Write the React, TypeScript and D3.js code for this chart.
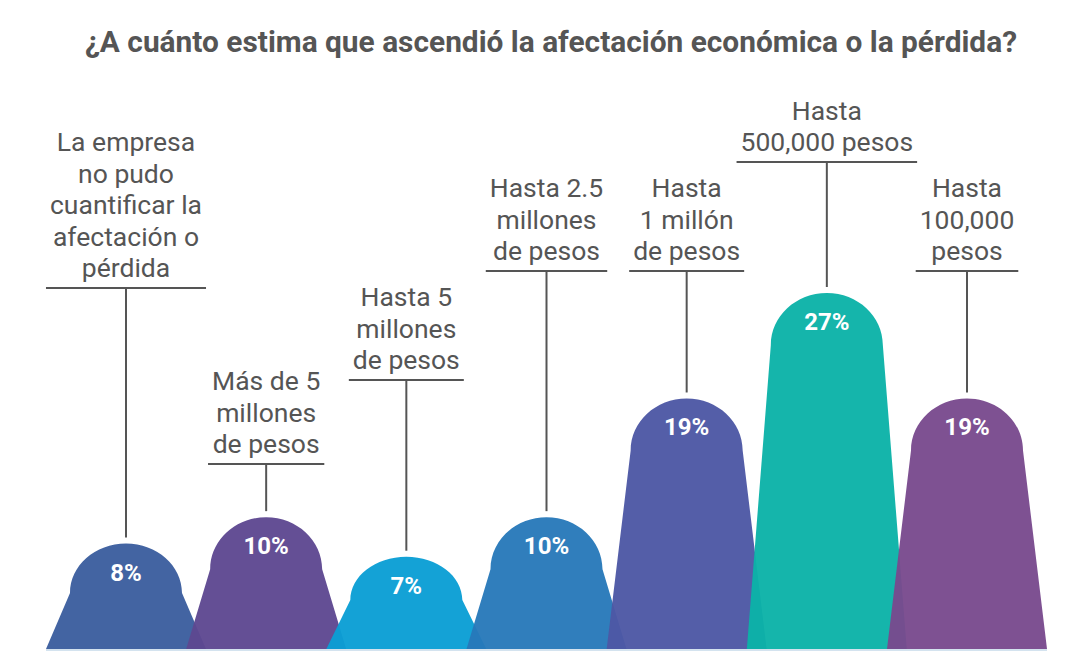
import React, { useEffect, useRef } from "react";
import * as d3 from "d3";

const categories = [
  "no_cuantificar",
  "mas_5m",
  "hasta_5m",
  "hasta_2_5m",
  "hasta_1m",
  "hasta_500k",
  "hasta_100k",
];
const values = [8, 10, 7, 10, 19, 27, 19];
const labels = [
  ["La empresa", "no pudo", "cuantificar la", "afectación o", "pérdida"],
  ["Más de 5", "millones", "de pesos"],
  ["Hasta 5", "millones", "de pesos"],
  ["Hasta 2.5", "millones", "de pesos"],
  ["Hasta", "1 millón", "de pesos"],
  ["Hasta", "500,000 pesos"],
  ["Hasta", "100,000", "pesos"],
];
// rule (label underline) vertical position in pixels
const ruleY = [288, 464, 380, 271, 271, 162, 271];
const colors = ["#3b5e9e", "#5e4891", "#0a9ed4", "#2879b9", "#4d57a4", "#0bb2a8", "#794a8e"];
const title = "¿A cuánto estima que ascendió la afectación económica o la pérdida?";

export default function App() {
  const ref = useRef<SVGSVGElement>(null);
  useEffect(() => {
    const svg = d3.select(ref.current);
    svg.selectAll("*").remove();
    const baseY = 641;
    const x = d3.scalePoint<string>().domain(categories).range([118, 959]);
    const y = d3.scaleLinear().domain([0, 27]).range([baseY, 285]);

    svg
      .append("text")
      .attr("x", 543)
      .attr("y", 44)
      .attr("text-anchor", "middle")
      .attr("font-family", "Roboto")
      .attr("font-weight", 700)
      .attr("font-size", 29)
      .attr("fill", "#555555")
      .attr("textLength", 932)
      .attr("lengthAdjust", "spacingAndGlyphs")
      .text(title);

    const shoulder = 56;
    const baseHalf = 80;
    const g = svg.append("g");
    categories.forEach((c, i) => {
      const cx = x(c)!;
      const top = y(values[i]);
      const h = baseY - top;
      const dome = Math.min(52, h * 0.47);
      const sy = top + dome;
      const p = d3.path();
      p.moveTo(cx - baseHalf, baseY);
      p.lineTo(cx - shoulder, sy);
      const k = 0.5523;
      p.bezierCurveTo(cx - shoulder, sy - dome * k, cx - shoulder * k, top, cx, top);
      p.bezierCurveTo(cx + shoulder * k, top, cx + shoulder, sy - dome * k, cx + shoulder, sy);
      p.lineTo(cx + baseHalf, baseY);
      p.closePath();
      g.append("path").attr("d", p.toString()).attr("fill", colors[i]).attr("fill-opacity", 0.96);
      g.append("text")
        .attr("x", cx)
        .attr("y", top + 37)
        .attr("text-anchor", "middle")
        .attr("font-family", "Roboto")
        .attr("font-weight", 700)
        .attr("font-size", 24)
        .attr("fill", "#ffffff")
        .text(values[i] + "%");
    });

    svg
      .append("line")
      .attr("x1", x(categories[0])! - baseHalf)
      .attr("x2", x(categories[categories.length - 1])! + baseHalf)
      .attr("y1", baseY + 1)
      .attr("y2", baseY + 1)
      .attr("stroke", "#d4e3ef")
      .attr("stroke-width", 2);

    const lineH = 31.5;
    categories.forEach((c, i) => {
      const cx = x(c)!;
      const top = y(values[i]);
      const ry = ruleY[i] - 8;
      const lines = labels[i];
      const tg = svg.append("g");
      lines.forEach((l, j) => {
        tg.append("text")
          .attr("x", cx)
          .attr("y", ry - 11 - (lines.length - 1 - j) * lineH)
          .attr("text-anchor", "middle")
          .attr("font-family", "Roboto")
          .attr("font-size", 26.5)
          .attr("fill", "#555555")
          .text(l);
      });
      const bb = (tg.node() as SVGGElement).getBBox();
      svg
        .append("line")
        .attr("x1", bb.x - 4)
        .attr("x2", bb.x + bb.width + 4)
        .attr("y1", ry)
        .attr("y2", ry)
        .attr("stroke", "#555555")
        .attr("stroke-width", 2);
      svg
        .append("line")
        .attr("x1", cx)
        .attr("x2", cx)
        .attr("y1", ry)
        .attr("y2", top - 6)
        .attr("stroke", "#555555")
        .attr("stroke-width", 2);
    });
  }, []);
  return <svg ref={ref} width={1071} height={650} style={{ display: "block" }} />;
}
